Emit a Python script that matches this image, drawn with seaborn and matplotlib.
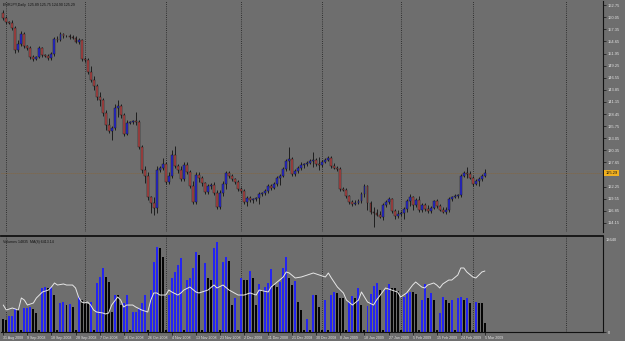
import matplotlib
matplotlib.use("Agg")
import matplotlib.pyplot as plt
import matplotlib.transforms as mtransforms
import numpy as np
import pandas as pd
import seaborn as sns

# ---------------- data ----------------
symbol_title = "EURJPY,Daily  125.89 125.75 124.90 125.29"
volume_title = "Volumes 14835  MA(8) 6413.14"

opens = [
    160.99, 159.87, 158.98, 158.76, 157.64, 152.73, 154.07, 156.30, 153.63, 153.18,
    151.17, 150.73, 151.17, 153.18, 151.62, 151.40, 150.95, 151.84, 155.19, 154.97,
    156.30, 155.86, 155.80, 155.64, 155.41, 154.52, 154.97, 150.73, 150.50, 147.83,
    146.04, 144.70, 142.25, 141.58, 138.68, 136.00, 134.66, 135.33, 139.80, 140.24,
    138.23, 133.99, 136.45, 136.67, 136.89, 136.67, 131.09, 125.96, 124.62, 119.94,
    118.60, 117.49, 125.96, 126.41, 127.30, 123.29, 124.62, 129.31, 126.86, 125.96,
    123.96, 127.08, 125.52, 122.39, 118.82, 124.85, 124.18, 123.06, 121.05, 122.39,
    122.62, 120.83, 117.71, 120.83, 122.84, 125.29, 124.62, 123.96, 123.29, 121.72,
    121.28, 118.82, 119.72, 119.27, 119.49, 119.72, 120.61, 120.83, 121.28, 122.39,
    121.95, 122.84, 124.18, 124.62, 126.19, 127.97, 128.42, 125.07, 125.74, 126.41,
    127.08, 127.30, 127.52, 127.97, 128.19, 127.30, 127.08, 127.75, 128.19, 128.64,
    126.86, 126.41, 126.19, 121.72, 121.50, 120.16, 118.82, 118.38, 118.60, 119.05,
    120.61, 122.39, 118.60, 116.59, 116.37, 115.92, 115.48, 118.15, 118.82, 119.49,
    116.82, 115.70, 116.15, 116.37, 117.26, 119.05, 119.94, 118.15, 119.27, 117.04,
    118.15, 117.26, 116.82, 117.49, 119.05, 117.93, 117.04, 116.59, 117.04, 119.49,
    119.94, 120.16, 120.39, 124.62, 125.35, 125.07, 124.18, 122.84, 123.51, 123.96,
    124.62]

highs = [
    161.66, 160.32, 159.21, 159.43, 158.09, 154.97, 156.97, 156.75, 153.85, 153.63,
    151.62, 151.40, 153.63, 153.40, 151.84, 151.84, 152.29, 155.64, 155.86, 156.75,
    156.53, 156.08, 156.30, 156.08, 155.86, 155.41, 155.19, 151.17, 150.95, 149.17,
    146.93, 145.15, 143.36, 142.03, 139.35, 137.56, 135.78, 140.69, 141.58, 140.69,
    138.68, 137.12, 136.89, 137.12, 138.90, 137.12, 131.54, 126.86, 125.52, 120.16,
    119.94, 126.86, 126.86, 128.64, 127.75, 125.52, 130.42, 131.32, 127.30, 126.86,
    127.75, 127.75, 125.96, 123.51, 125.52, 125.52, 124.62, 123.29, 122.84, 123.06,
    123.29, 121.50, 121.50, 123.51, 125.74, 125.74, 125.07, 124.18, 123.73, 122.17,
    121.72, 120.16, 120.16, 119.72, 119.94, 121.05, 121.05, 121.72, 122.84, 122.84,
    123.29, 124.62, 125.07, 126.63, 128.42, 131.09, 128.86, 126.19, 126.86, 127.75,
    127.52, 127.97, 128.42, 129.98, 128.64, 128.86, 128.19, 128.64, 129.09, 129.09,
    127.52, 126.86, 126.63, 122.17, 121.95, 120.39, 119.27, 119.27, 119.49, 121.05,
    122.84, 122.62, 119.05, 117.71, 117.26, 116.82, 118.60, 119.27, 119.94, 119.72,
    117.26, 117.04, 116.82, 117.71, 119.49, 120.61, 120.16, 119.72, 120.16, 118.60,
    118.60, 118.15, 117.93, 119.27, 119.49, 118.38, 117.71, 117.71, 119.94, 120.16,
    120.61, 120.61, 125.07, 125.74, 126.63, 125.74, 124.62, 123.96, 124.40, 125.07,
    126.19]

lows = [
    159.43, 158.54, 158.54, 157.20, 152.07, 152.29, 153.63, 153.18, 152.73, 150.73,
    150.28, 150.50, 150.95, 151.17, 151.17, 150.50, 150.50, 151.40, 154.52, 154.74,
    155.41, 155.64, 155.19, 155.19, 154.30, 154.07, 150.28, 150.06, 147.38, 145.60,
    143.81, 141.58, 140.24, 138.01, 134.89, 134.22, 132.66, 134.89, 137.79, 137.56,
    133.55, 133.77, 136.23, 136.23, 136.00, 130.65, 125.29, 123.06, 119.27, 116.37,
    115.92, 116.37, 125.52, 125.96, 122.84, 122.84, 124.18, 126.41, 125.29, 123.51,
    123.51, 125.07, 121.95, 118.38, 118.38, 123.29, 122.39, 120.61, 120.61, 121.72,
    120.39, 117.26, 117.26, 120.16, 121.72, 124.18, 123.51, 122.84, 121.28, 120.83,
    118.38, 117.93, 118.82, 118.60, 119.05, 118.38, 120.16, 120.39, 120.83, 121.50,
    121.72, 122.39, 122.62, 124.40, 125.74, 125.96, 124.62, 124.62, 125.29, 125.96,
    126.41, 126.86, 127.30, 126.63, 126.86, 125.96, 126.63, 127.52, 127.97, 126.41,
    126.19, 125.74, 121.28, 121.28, 119.72, 118.38, 117.93, 118.15, 118.38, 118.60,
    119.94, 117.04, 116.15, 113.25, 115.70, 115.25, 114.81, 117.71, 118.38, 116.37,
    115.03, 115.25, 115.70, 115.03, 116.59, 117.93, 117.04, 117.71, 116.59, 116.59,
    116.82, 116.37, 116.37, 117.26, 117.49, 116.82, 116.37, 116.15, 116.59, 119.05,
    119.72, 119.72, 119.94, 124.40, 124.18, 123.96, 122.39, 122.62, 122.39, 123.51,
    124.40]

closes = [
    159.87, 158.98, 158.76, 157.64, 152.73, 154.07, 156.30, 153.63, 153.18, 151.17,
    150.73, 151.17, 153.18, 151.62, 151.40, 150.95, 151.84, 155.19, 154.97, 156.30,
    155.86, 155.80, 155.64, 155.41, 154.52, 154.97, 150.73, 150.50, 147.83, 146.04,
    144.70, 142.25, 141.58, 138.68, 136.00, 134.66, 135.33, 139.80, 140.24, 138.23,
    133.99, 136.45, 136.67, 136.89, 136.67, 131.09, 125.96, 124.62, 119.94, 118.60,
    117.49, 125.96, 126.41, 127.30, 123.29, 124.62, 129.31, 126.86, 125.96, 123.96,
    127.08, 125.52, 122.39, 118.82, 124.85, 124.18, 123.06, 121.05, 122.39, 122.62,
    120.83, 117.71, 120.83, 122.84, 125.29, 124.62, 123.96, 123.29, 121.72, 121.28,
    118.82, 119.72, 119.27, 119.49, 119.72, 120.61, 120.83, 121.28, 122.39, 121.95,
    122.84, 124.18, 124.62, 126.19, 127.97, 128.42, 125.07, 125.74, 126.41, 127.08,
    127.30, 127.52, 127.97, 128.19, 127.30, 127.08, 127.75, 128.19, 128.64, 126.86,
    126.41, 126.19, 121.72, 121.50, 120.16, 118.82, 118.38, 118.60, 119.05, 120.61,
    122.39, 118.60, 116.59, 116.37, 115.92, 115.48, 118.15, 118.82, 119.49, 116.82,
    115.70, 116.15, 116.37, 117.26, 119.05, 119.94, 118.15, 119.27, 117.04, 118.15,
    117.26, 116.82, 117.49, 119.05, 117.93, 117.04, 116.59, 117.04, 119.49, 119.94,
    120.16, 120.39, 124.62, 125.35, 125.07, 124.18, 122.84, 123.51, 123.96, 124.62,
    125.29]

volumes = [
    1850, 1700, 2270, 2300, 3270, 3250, 280, 3400, 3450, 3500,
    3300, 2700, 280, 6250, 6400, 6300, 6450, 5250, 280, 4120,
    4260, 3830, 3980, 3550, 280, 4970, 4540, 4120, 3980, 4260,
    280, 6960, 7810, 9090, 7810, 7100, 2840, 5250, 5200, 3830,
    4120, 5250, 280, 2840, 2900, 3410, 4120, 5250, 280, 5960,
    9940, 12070, 11930, 10650, 280, 5250, 7670, 8520, 9510, 10510,
    280, 7380, 7670, 9090, 11360, 10930, 280, 9800, 7670, 7380,
    11930, 12780, 280, 9940, 10650, 10080, 3830, 4830, 280, 7670,
    7380, 7350, 8660, 7670, 3830, 6820, 5960, 6390, 6960, 8950,
    6670, 6390, 7100, 9090, 10650, 7670, 6670, 7240, 4260, 3120,
    280, 1850, 280, 5250, 5200, 3550, 280, 4540, 280, 5250,
    5680, 5540, 4830, 4800, 280, 4260, 5110, 4830, 6250, 3830,
    280, 3690, 5400, 6530, 6960, 5960, 280, 5960, 6820, 6250,
    6200, 5820, 280, 4970, 5540, 5680, 5650, 5400, 280, 4540,
    6820, 4830, 5540, 4540, 280, 2700, 4970, 4540, 4120, 4540,
    280, 4830, 4970, 4540, 4830, 4120, 280, 4260, 4120, 4100,
    1280]

line_bars = [
    0, 1, 3, 5, 6, 7, 8, 10, 11, 12, 13, 15, 16, 17, 18, 20, 21, 23, 24, 25,
    26, 27, 28, 29, 30, 31, 33, 34, 35, 36, 38, 39, 40, 41, 43, 44, 46, 48, 49, 50,
    51, 52, 53, 54, 55, 56, 58, 59, 60, 62, 64, 65, 68, 70, 71, 73, 75, 78, 80, 82,
    84, 85, 88, 89, 91, 93, 94, 95, 97, 99, 101, 103, 105, 107, 108, 109, 111, 113, 114, 116,
    118, 119, 120, 121, 123, 124, 126, 127, 129, 131, 132, 134, 136, 137, 139, 140, 141, 143, 144, 145,
    146, 148, 149, 151, 152, 153, 154, 156, 157, 158, 159, 160]
line_values = [
    3830, 3120, 3410, 3120, 4830, 4540, 3830, 4120, 4830, 5250,
    5680, 5960, 6390, 6960, 6670, 6820, 6670, 6670, 6250, 4970,
    4260, 4120, 4260, 3830, 3120, 2840, 2700, 2560, 2700, 3830,
    4970, 4540, 3550, 3830, 3830, 3550, 3120, 2840, 4540, 5540,
    5540, 5250, 5250, 5250, 5960, 5680, 5250, 5540, 5960, 6390,
    5680, 5540, 5960, 6670, 6250, 6670, 5960, 5250, 5250, 5540,
    5250, 5960, 5680, 6390, 7100, 7810, 8520, 8380, 7670, 7810,
    8090, 8380, 8090, 7810, 8380, 7670, 6390, 5540, 4540, 3830,
    4540, 5680, 4970, 4260, 3830, 4540, 5680, 6250, 5960, 5680,
    4970, 5540, 6670, 7100, 6390, 6250, 6670, 6960, 6670, 6250,
    6820, 7380, 7380, 8090, 9090, 9090, 8520, 7810, 7670, 8090,
    8520, 8660]

date_labels = [
    "31 Aug 2008", "9 Sep 2008", "18 Sep 2008", "28 Sep 2008", "7 Oct 2008",
    "16 Oct 2008", "26 Oct 2008", "4 Nov 2008", "13 Nov 2008", "23 Nov 2008",
    "2 Dec 2008", "11 Dec 2008", "21 Dec 2008", "30 Dec 2008", "8 Jan 2009",
    "18 Jan 2009", "27 Jan 2009", "5 Feb 2009", "15 Feb 2009", "24 Feb 2009",
    "5 Mar 2009"]
date_label_bars = [0, 8, 16, 24, 32, 40, 48, 56, 64, 72, 80, 88, 96, 104, 112,
                   120, 128, 136, 144, 152, 160]
month_start_bars = [1, 27, 54, 79, 106, 132, 156, 187]

# the 124.95 level sits under the current-price tag, so it is not listed
price_ticks = [162.75, 160.05, 157.35, 154.65, 151.95, 149.25, 146.55, 143.85,
               141.15, 138.45, 135.75, 133.05, 130.35, 127.65, 122.25,
               119.55, 116.85, 114.15]
last_price = 125.29
volume_top_label = "13640"

# ---------------- style ----------------
sns.set_theme(style="dark")
plt.rcParams['font.family'] = ['Liberation Sans', 'DejaVu Sans']

BG = '#6e6e6e'
FG = '#e2e2e2'
DARK = '#111111'
BULL = '#2a2ad8'
BEAR = '#b54848'
VOL_UP = '#2424f2'
VOL_DN = '#050505'

W, H = 625, 341
fig = plt.figure(figsize=(W / 100, H / 100), dpi=100, facecolor=BG)
ax = fig.add_axes([1 / W, 1 - 232 / H, 602 / W, 231 / H], facecolor=BG)
axv = fig.add_axes([1 / W, 1 - 332 / H, 602 / W, 96 / H], facecolor=BG)

df = pd.DataFrame({
    'bar': np.arange(len(closes)),
    'open': opens, 'high': highs, 'low': lows, 'close': closes,
    'volume': volumes,
})
df['up'] = df['close'] >= df['open']
df['body_lo'] = df[['open', 'close']].min(axis=1)
df['body_h'] = (df['close'] - df['open']).abs().clip(lower=0.08)
df['vol_up'] = df['volume'] > df['volume'].shift(1)

xlim = (-0.76, 199.24)

# month separators (dotted vertical grid)
for a in (ax, axv):
    for b in month_start_bars:
        a.axvline(b, color='#1c1c1c', lw=0.6, ls=(0, (1.0, 1.6)), zorder=1)

# bid line
ax.axhline(last_price, color='#8c6430', lw=0.6, ls=(0, (1.0, 1.4)), zorder=1)

# candles
ax.vlines(df['bar'], df['low'], df['high'], color=DARK, lw=0.6, zorder=2)
for is_up, col in ((True, BULL), (False, BEAR)):
    d = df[df['up'] == is_up]
    ax.bar(d['bar'], d['body_h'], bottom=d['body_lo'], width=0.64,
           color=col, edgecolor=DARK, linewidth=0.3, zorder=3)

# volumes
for is_up, col in ((True, VOL_UP), (False, VOL_DN)):
    d = df[df['vol_up'] == is_up]
    axv.bar(d['bar'], d['volume'], width=0.66, color=col, linewidth=0, zorder=2)

line_df = pd.DataFrame({'bar': line_bars, 'value': line_values})
sns.lineplot(data=line_df, x='bar', y='value', ax=axv, color='#e6e6e6',
             linewidth=0.7, zorder=4)

# limits
ax.set_xlim(*xlim)
axv.set_xlim(*xlim)
ax.set_ylim(163.89 - 0.2231 * 232, 163.89 - 0.2231 * 1)
axv.set_ylim(0, 13632)

# spines
for a in (ax, axv):
    for s in ('left', 'top', 'bottom', 'right'):
        a.spines[s].set_visible(False)
    a.spines['right'].set_visible(True)
    a.spines['right'].set_color(DARK)
    a.spines['right'].set_linewidth(0.8)
    a.grid(False)
    a.set_xlabel('')
    a.set_ylabel('')
axv.spines['top'].set_visible(True)
axv.spines['top'].set_color(DARK)
axv.spines['top'].set_linewidth(1.3)
axv.spines['bottom'].set_visible(True)
axv.spines['bottom'].set_color(DARK)
axv.spines['bottom'].set_linewidth(0.8)

# price axis
ax.yaxis.tick_right()
ax.set_yticks(price_ticks)
ax.set_yticklabels([f"{v:.2f}" for v in price_ticks])
ax.tick_params(axis='y', which='both', right=True, left=False, length=2,
               width=0.5, color=DARK, labelsize=2.9, labelcolor=FG, pad=1.2)
ax.set_xticks([])

# volume axis
axv.yaxis.tick_right()
axv.set_yticks([0])
axv.set_yticklabels(["0"])
axv.tick_params(axis='y', right=True, left=False, length=2, width=0.5,
                color=DARK, labelsize=2.9, labelcolor=FG, pad=1.2)
axv.text(1.004, 0.975, volume_top_label, transform=axv.transAxes,
         fontsize=2.9, color=FG, ha='left', va='top')

axv.set_xticks(date_label_bars)
axv.set_xticklabels(date_labels, ha='left')
axv.tick_params(axis='x', bottom=True, length=2, width=0.5, color=DARK,
                labelsize=2.6, labelcolor=FG, pad=0.6)

# titles
ax.text(0.004, 0.992, symbol_title, transform=ax.transAxes, fontsize=2.6,
        color=DARK, ha='left', va='top')
axv.text(0.004, 0.955, volume_title, transform=axv.transAxes, fontsize=2.6,
         color=DARK, ha='left', va='top')

# current price tag
trans = mtransforms.blended_transform_factory(ax.transAxes, ax.transData)
ax.text(1.004, last_price, f"{last_price:.2f}", transform=trans, fontsize=2.9,
        color='#101010', ha='left', va='center', zorder=10, clip_on=False,
        bbox=dict(boxstyle='square,pad=0.25', fc='#f0b020', ec='none'))

fig.savefig("out.png", dpi=100, facecolor=BG)
